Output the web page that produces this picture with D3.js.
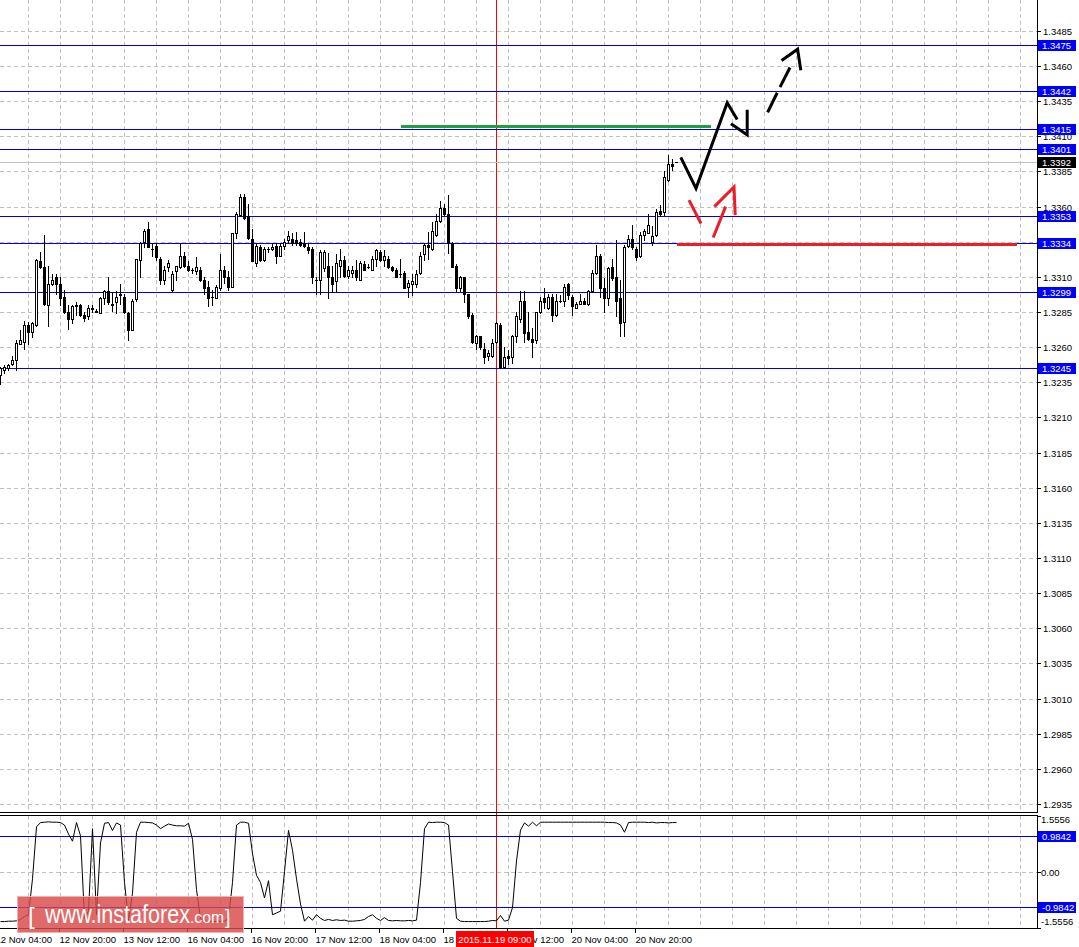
<!DOCTYPE html>
<html><head><meta charset="utf-8">
<script src="https://cdn.jsdelivr.net/npm/d3@7"></script>
<style>html,body{margin:0;padding:0;background:#fff;overflow:hidden}text{font-family:"Liberation Sans",Arial,sans-serif}</style>
</head><body><svg id="c" width="1079" height="947"></svg>
<script>
// ---- DATA ----
// hourly candles [open, high, low, close], bar index 0..169
const ohlc = [
[1.3240,1.3246,1.3234,1.3245],[1.3244,1.3247,1.3242,1.3246],[1.3245,1.3248,1.3244,1.3247],[1.3248,1.3254,1.3247,1.3251],
[1.3251,1.3265,1.3244,1.3263],[1.3262,1.3272,1.3262,1.3265],[1.3264,1.3279,1.3259,1.3276],[1.3276,1.3278,1.3262,1.3271],
[1.3271,1.3278,1.3267,1.3277],[1.3276,1.3323,1.3275,1.3322],[1.3321,1.3328,1.3316,1.3317],[1.3317,1.3340,1.3290,1.3291],
[1.3290,1.3318,1.3275,1.3305],[1.3305,1.3312,1.3304,1.3308],[1.3310,1.3312,1.3298,1.3305],[1.3305,1.3310,1.3290,1.3295],
[1.3296,1.3301,1.3284,1.3285],[1.3285,1.3290,1.3273,1.3280],[1.3280,1.3290,1.3277,1.3289],[1.3290,1.3292,1.3283,1.3289],
[1.3290,1.3291,1.3282,1.3283],[1.3283,1.3285,1.3279,1.3281],[1.3282,1.3290,1.3280,1.3288],[1.3288,1.3290,1.3285,1.3287],
[1.3286,1.3287,1.3285,1.3285],[1.3284,1.3296,1.3284,1.3295],[1.3295,1.3301,1.3291,1.3300],[1.3300,1.3310,1.3291,1.3292],
[1.3291,1.3299,1.3286,1.3290],[1.3292,1.3300,1.3284,1.3296],[1.3297,1.3305,1.3291,1.3298],[1.3296,1.3298,1.3284,1.3285],
[1.3284,1.3285,1.3265,1.3272],[1.3272,1.3294,1.3272,1.3293],[1.3294,1.3323,1.3293,1.3323],[1.3322,1.3335,1.3310,1.3334],
[1.3335,1.3344,1.3331,1.3343],[1.3344,1.3349,1.3331,1.3331],[1.3330,1.3334,1.3325,1.3330],[1.3332,1.3334,1.3322,1.3324],
[1.3323,1.3324,1.3305,1.3308],[1.3308,1.3318,1.3305,1.3315],[1.3317,1.3322,1.3314,1.3320],[1.3301,1.3314,1.3300,1.3312],
[1.3314,1.3318,1.3308,1.3318],[1.3317,1.3334,1.3316,1.3325],[1.3325,1.3328,1.3317,1.3318],[1.3318,1.3321,1.3314,1.3315],
[1.3315,1.3316,1.3313,1.3315],[1.3314,1.3324,1.3312,1.3317],[1.3315,1.3317,1.3307,1.3308],[1.3308,1.3310,1.3298,1.3302],
[1.3303,1.3307,1.3289,1.3295],[1.3296,1.3301,1.3290,1.3296],[1.3295,1.3304,1.3295,1.3303],[1.3302,1.3326,1.3301,1.3315],
[1.3315,1.3318,1.3306,1.3310],[1.3310,1.3314,1.3301,1.3303],[1.3303,1.3341,1.3303,1.3341],[1.3341,1.3356,1.3338,1.3355],
[1.3354,1.3369,1.3353,1.3367],[1.3367,1.3369,1.3351,1.3352],[1.3353,1.3362,1.3337,1.3338],[1.3337,1.3344,1.3321,1.3321],
[1.3320,1.3334,1.3318,1.3332],[1.3331,1.3333,1.3321,1.3322],[1.3322,1.3331,1.3321,1.3330],[1.3330,1.3331,1.3328,1.3330],
[1.3330,1.3334,1.3329,1.3331],[1.3332,1.3334,1.3320,1.3325],[1.3325,1.3334,1.3325,1.3332],[1.3332,1.3337,1.3330,1.3335],
[1.3336,1.3343,1.3334,1.3339],[1.3337,1.3341,1.3333,1.3334],[1.3336,1.3342,1.3333,1.3334],[1.3335,1.3337,1.3332,1.3333],
[1.3334,1.3342,1.3331,1.3332],[1.3331,1.3334,1.3327,1.3329],[1.3330,1.3331,1.3306,1.3310],[1.3308,1.3310,1.3298,1.3308],
[1.3308,1.3329,1.3298,1.3328],[1.3316,1.3329,1.3314,1.3328],[1.3318,1.3327,1.3295,1.3310],[1.3310,1.3318,1.3299,1.3305],
[1.3307,1.3326,1.3299,1.3320],[1.3318,1.3330,1.3310,1.3322],[1.3322,1.3325,1.3310,1.3311],[1.3311,1.3318,1.3309,1.3315],
[1.3313,1.3318,1.3310,1.3315],[1.3315,1.3322,1.3308,1.3310],[1.3308,1.3321,1.3308,1.3320],[1.3319,1.3321,1.3315,1.3315],
[1.3317,1.3319,1.3316,1.3317],[1.3315,1.3325,1.3315,1.3323],[1.3323,1.3330,1.3318,1.3329],[1.3328,1.3329,1.3321,1.3322],
[1.3322,1.3329,1.3318,1.3325],[1.3323,1.3325,1.3316,1.3317],[1.3317,1.3318,1.3314,1.3315],[1.3315,1.3316,1.3310,1.3310],
[1.3312,1.3323,1.3310,1.3312],[1.3313,1.3314,1.3302,1.3302],[1.3303,1.3308,1.3296,1.3306],[1.3305,1.3312,1.3297,1.3307],
[1.3305,1.3315,1.3303,1.3312],[1.3313,1.3328,1.3312,1.3325],[1.3326,1.3334,1.3322,1.3333],[1.3333,1.3342,1.3323,1.3331],
[1.3330,1.3349,1.3329,1.3343],[1.3340,1.3355,1.3339,1.3350],[1.3350,1.3364,1.3349,1.3359],[1.3359,1.3362,1.3354,1.3355],
[1.3355,1.3368,1.3327,1.3334],[1.3334,1.3335,1.3317,1.3317],[1.3318,1.3319,1.3300,1.3302],[1.3302,1.3311,1.3300,1.3310],
[1.3310,1.3310,1.3292,1.3298],[1.3298,1.3298,1.3281,1.3282],[1.3283,1.3284,1.3263,1.3264],[1.3263,1.3269,1.3259,1.3268],
[1.3268,1.3268,1.3259,1.3260],[1.3259,1.3263,1.3249,1.3253],[1.3254,1.3258,1.3251,1.3256],[1.3254,1.3266,1.3253,1.3263],
[1.3264,1.3278,1.3263,1.3277],[1.3276,1.3277,1.3245,1.3246],[1.3246,1.3260,1.3245,1.3253],[1.3254,1.3258,1.3248,1.3252],
[1.3253,1.3269,1.3249,1.3268],[1.3268,1.3285,1.3264,1.3282],[1.3280,1.3300,1.3278,1.3293],[1.3293,1.3300,1.3264,1.3270],
[1.3271,1.3285,1.3265,1.3266],[1.3266,1.3274,1.3253,1.3264],[1.3265,1.3285,1.3263,1.3285],[1.3285,1.3296,1.3284,1.3293],
[1.3295,1.3302,1.3288,1.3292],[1.3288,1.3298,1.3287,1.3296],[1.3296,1.3298,1.3279,1.3283],[1.3283,1.3298,1.3282,1.3293],
[1.3293,1.3297,1.3292,1.3293],[1.3293,1.3305,1.3289,1.3303],[1.3305,1.3306,1.3294,1.3297],[1.3296,1.3297,1.3283,1.3289],
[1.3288,1.3292,1.3288,1.3291],[1.3291,1.3298,1.3291,1.3293],[1.3293,1.3295,1.3291,1.3291],[1.3291,1.3301,1.3290,1.3300],
[1.3300,1.3315,1.3299,1.3313],[1.3313,1.3333,1.3312,1.3325],[1.3325,1.3326,1.3296,1.3302],[1.3302,1.3309,1.3285,1.3295],
[1.3295,1.3317,1.3290,1.3316],[1.3317,1.3323,1.3308,1.3309],[1.3310,1.3336,1.3282,1.3293],[1.3295,1.3308,1.3268,1.3277],
[1.3278,1.3333,1.3268,1.3331],[1.3332,1.3340,1.3331,1.3337],[1.3337,1.3347,1.3330,1.3331],[1.3330,1.3331,1.3322,1.3324],
[1.3325,1.3342,1.3324,1.3340],[1.3340,1.3344,1.3336,1.3343],[1.3341,1.3355,1.3341,1.3347],[1.3335,1.3346,1.3333,1.3339],
[1.3340,1.3358,1.3339,1.3356],[1.3357,1.3361,1.3353,1.3355],[1.3356,1.3385,1.3354,1.3381],[1.3379,1.3397,1.3378,1.3390],
[1.3390,1.3394,1.3386,1.3389],[1.3392,1.3392,1.3392,1.3392]
];
// oscillator in lower pane, one value per bar
const oscillator = [
-1.39,-1.39,-1.38,-1.38,-1.37,-1.33,-1.25,-1.2,-0.2,1.25,1.37,
1.38,1.39,1.38,1.38,1.37,1.30,1.05,0.85,1.37,
1.0,-1.3,-1.1,1.2,-1.2,0.8,1.35,1.37,1.15,1.36,1.3,
-0.3,-1.35,-0.6,1.1,1.38,
1.38,1.37,1.36,1.3,1.2,1.27,1.33,1.3,1.28,1.28,1.27,1.35,
0.9,-0.5,-1.3,-1.38,-1.39,-1.38,-1.39,-1.38,-1.38,-1.3,-0.3,1.3,
1.38,1.38,1.35,0.5,-0.1,-0.3,-0.73,-0.25,-1.2,-1.15,-1.1,0.0,1.15,0.6,-0.2,-0.9,-1.38,
-1.25,-1.35,-1.2,-1.3,-1.36,-1.33,-1.36,-1.34,-1.36,-1.35,-1.38,-1.38,-1.37,-1.36,
-1.33,-1.25,-1.2,-1.3,-1.36,-1.28,-1.36,-1.37,-1.36,-1.37,-1.37,-1.36,-1.37,-1.35,
-0.3,1.2,1.38,1.37,1.38,1.38,1.37,1.3,0.0,-1.3,
-1.38,-1.39,-1.39,-1.39,-1.39,-1.39,-1.39,-1.38,-1.36,-1.37,-1.22,-1.38,-1.35,
-1.0,0.3,1.16,1.36,1.27,1.38,1.28,1.38,
1.38,1.38,1.38,1.38,1.38,1.38,1.38,1.38,1.38,1.38,1.38,1.38,1.38,1.38,1.38,1.38,1.37,1.37,1.36,
1.3,1.1,1.37,1.38,1.38,1.38,1.38,1.37,1.38,1.36,1.37,1.37,1.36,1.37,1.37
];
const priceTicks = ["1.3485","1.3460","1.3435","1.3410","1.3385","1.3360","1.3335","1.3310","1.3285","1.3260",
 "1.3235","1.3210","1.3185","1.3160","1.3135","1.3110","1.3085","1.3060","1.3035","1.3010","1.2985","1.2960","1.2935"];
const levels = [1.3475,1.3442,1.3415,1.3401,1.3353,1.3334,1.3299,1.3245];
const levelLabels = ["1.3475","1.3442","1.3415","1.3401","1.3353","1.3334","1.3299","1.3245"];
const lastPrice = 1.3392, lastLabel = "1.3392";
const oscTicks = [1.5556, 0, -1.5556];
const oscTickLabels = ["1.5556","0.00","-1.5556"];
const oscLevels = [0.9842, -0.9842];
const oscLevelLabels = ["0.9842","-0.9842"];
const timeTickIndex = [-1,15,31,47,63,79,95,111,127,143,159];
const timeTickLabels = ["12 Nov 04:00","12 Nov 20:00","13 Nov 12:00","16 Nov 04:00","16 Nov 20:00","17 Nov 12:00",
 "18 Nov 04:00","18 Nov 20:00","19 Nov 12:00","20 Nov 04:00","20 Nov 20:00"];
const markerIndex = 124, markerLabel = "2015.11.19 09:00";
// drawn annotations in [bar index, price]
const greenSegment = [[100.25,1.3417],[177.75,1.3417]];
const redSegment = [[169.25,1.3333],[254.25,1.3333]];
const blackZigzag = [[170.2,1.3395],[174.0,1.3373],[181.8,1.3434],[184.3,1.3422]];
const blackHead = [[182.75,1.3419],[186.8,1.3411],[186.8,1.3429]];
const dashedShafts = [[[191.9,1.3427],[194.3,1.3441]],[[195.0,1.3445],[197.5,1.3459]]];
const dashedHead = [[195.4,1.3464],[199.4,1.3472],[200.2,1.3457]];
const redShafts = [[[172.25,1.33646],[175.25,1.33480]],[[178.3,1.3338],[181.4,1.3360]]];
const redHead = [[178.6,1.3360],[183.5,1.3374],[183.8,1.3354]];

// ---- LAYOUT ----
const svg = d3.select("#c");
const plotR = 1037, mainB = 812.5, indT = 815.5, indB = 928.5;
const x = d3.scaleLinear().domain([0, 259.25]).range([0, plotR]);
const y = d3.scaleLinear().domain([1.2929, 1.3507]).range([mainB, 0]);
const yo = d3.scaleLinear().domain([-1.5556, 1.5556]).range([927.5, 815.9]);
const px = v => Math.round(v) + 0.5;

const defs = svg.append("defs");
defs.append("clipPath").attr("id","mainClip").append("rect").attr("x",0).attr("y",0).attr("width",plotR).attr("height",mainB);
defs.append("clipPath").attr("id","indClip").append("rect").attr("x",0).attr("y",indT).attr("width",plotR).attr("height",indB-indT);

const grid = svg.append("g").attr("stroke","#c0c0c0").attr("stroke-dasharray","4,3").attr("shape-rendering","crispEdges");
const gridIdx = d3.range(7, 259, 8);
grid.selectAll(".vm").data(gridIdx).join("line").attr("x1",d=>px(x(d))).attr("x2",d=>px(x(d))).attr("y1",0).attr("y2",mainB);
grid.selectAll(".vi").data(gridIdx).join("line").attr("class","vi").attr("x1",d=>px(x(d))).attr("x2",d=>px(x(d))).attr("y1",indT).attr("y2",indB);
grid.selectAll(".hm").data(priceTicks).join("line").attr("class","hm").attr("x1",0).attr("x2",plotR).attr("y1",d=>px(y(+d))).attr("y2",d=>px(y(+d)));
grid.append("line").attr("x1",0).attr("x2",plotR).attr("y1",px(yo(0))).attr("y2",px(yo(0)));

// marker vertical line
svg.append("line").attr("x1",px(x(markerIndex))).attr("x2",px(x(markerIndex))).attr("y1",0).attr("y2",indB)
  .attr("stroke","#ff0000").attr("shape-rendering","crispEdges");

// level lines
const lv = svg.append("g").attr("shape-rendering","crispEdges");
lv.selectAll("line").data(levels).join("line").attr("x1",0).attr("x2",plotR)
  .attr("y1",d=>px(y(d))).attr("y2",d=>px(y(d))).attr("stroke","#0000e6");
lv.append("line").attr("x1",0).attr("x2",plotR).attr("y1",px(y(lastPrice))).attr("y2",px(y(lastPrice))).attr("stroke","#c0c0c0");
lv.selectAll(".ol").data(oscLevels).join("line").attr("class","ol").attr("x1",0).attr("x2",plotR)
  .attr("y1",d=>px(yo(d))).attr("y2",d=>px(yo(d))).attr("stroke","#0000e6");

// candles
const cg = svg.append("g").attr("clip-path","url(#mainClip)").attr("shape-rendering","crispEdges");
ohlc.forEach((c,i)=>{
  const cx = Math.round(x(i));
  const [o,h,l,cl] = c;
  cg.append("line").attr("x1",cx+0.5).attr("x2",cx+0.5).attr("y1",Math.round(y(h))).attr("y2",Math.round(y(l))+1).attr("stroke","#000");
  const yt = Math.round(y(Math.max(o,cl))), yb = Math.round(y(Math.min(o,cl)));
  if (cl > o) {
    cg.append("rect").attr("x",cx-0.5).attr("y",yt+0.5).attr("width",2).attr("height",Math.max(1,yb-yt))
      .attr("fill","#fff").attr("stroke","#000");
  } else if (cl < o) {
    cg.append("rect").attr("x",cx-1).attr("y",yt).attr("width",3).attr("height",Math.max(1,yb-yt+1)).attr("fill","#000");
  } else {
    cg.append("line").attr("x1",cx-1).attr("x2",cx+2).attr("y1",yt+0.5).attr("y2",yt+0.5).attr("stroke","#000");
  }
});

// oscillator
svg.append("path").datum(oscillator).attr("clip-path","url(#indClip)")
  .attr("d", d3.line().x((d,i)=>x(i)+0.5).y(d=>yo(d)))
  .attr("fill","none").attr("stroke","#000").attr("stroke-width",1);

// annotations
const line = d3.line().x(d=>x(d[0])).y(d=>y(d[1]));
const ann = svg.append("g").attr("fill","none").attr("stroke-linecap","butt").attr("stroke-linejoin","miter");
ann.append("path").attr("d",line(greenSegment)).attr("stroke","#21a03a").attr("stroke-width",3);
ann.append("path").attr("d",line(redSegment)).attr("stroke","#e8202a").attr("stroke-width",3);
ann.append("path").attr("d",line(blackZigzag)).attr("stroke","#000").attr("stroke-width",3);
ann.append("path").attr("d",line(blackHead)).attr("stroke","#000").attr("stroke-width",3);
dashedShafts.forEach(s=>ann.append("path").attr("d",line(s)).attr("stroke","#000").attr("stroke-width",3));
ann.append("path").attr("d",line(dashedHead)).attr("stroke","#000").attr("stroke-width",3);
redShafts.forEach(s=>ann.append("path").attr("d",line(s)).attr("stroke","#ee1c25").attr("stroke-width",3));
ann.append("path").attr("d",line(redHead)).attr("stroke","#ee1c25").attr("stroke-width",3);

// frames
const fr = svg.append("g").attr("stroke","#000").attr("shape-rendering","crispEdges");
fr.append("line").attr("x1",0).attr("x2",plotR+0.5).attr("y1",mainB).attr("y2",mainB);
fr.append("line").attr("x1",plotR+0.5).attr("x2",plotR+0.5).attr("y1",0).attr("y2",mainB);
fr.append("rect").attr("x",-1).attr("y",indT).attr("width",plotR+1.5).attr("height",indB-indT).attr("fill","none");

// right axis: price ticks
const ax = svg.append("g").attr("font-size","9.5px");
priceTicks.forEach(t=>{
  const yy = px(y(+t));
  ax.append("line").attr("x1",plotR).attr("x2",plotR+4).attr("y1",yy).attr("y2",yy).attr("stroke","#000").attr("shape-rendering","crispEdges");
  ax.append("text").attr("x",1043).attr("y",yy+3.5).attr("fill","#000").text(t);
});
oscTicks.forEach((t,k)=>{
  const yy = px(yo(t));
  const ty = k===0 ? yy+6 : (k===2 ? yy-4 : yy+3.5);
  ax.append("line").attr("x1",plotR).attr("x2",plotR+4).attr("y1",yy).attr("y2",yy).attr("stroke","#000").attr("shape-rendering","crispEdges");
  ax.append("text").attr("x",1041).attr("y",ty).attr("fill","#000").text(oscTickLabels[k]);
});
function tag(yv, label, bg){
  const yy = Math.round(yv);
  ax.append("rect").attr("x",1038).attr("y",yy-5).attr("width",38).attr("height",11).attr("fill",bg);
  ax.append("text").attr("x",1042).attr("y",yy+4).attr("fill","#fff").text(label);
}
levels.forEach((l,k)=>tag(y(l), levelLabels[k], "#0000ff"));
tag(y(lastPrice), lastLabel, "#000");
oscLevels.forEach((l,k)=>tag(yo(l), oscLevelLabels[k], "#0000ff"));

// time axis
const tx = svg.append("g").attr("font-size","9.5px");
timeTickIndex.forEach((ti,k)=>{
  const xx = Math.round(x(ti)) - 0.5;
  tx.append("line").attr("x1",xx).attr("x2",xx).attr("y1",indB).attr("y2",indB+4).attr("stroke","#000").attr("shape-rendering","crispEdges");
  tx.append("text").attr("x",xx).attr("y",943).attr("fill","#000").text(timeTickLabels[k]);
});
const mx = x(markerIndex);
tx.append("rect").attr("x",mx-40).attr("y",931).attr("width",78).attr("height",16).attr("fill","#ff0000");
tx.append("text").attr("x",mx-1).attr("y",943).attr("text-anchor","middle").attr("fill","#fff").text(markerLabel);

// watermark logo
const lg = svg.append("g");
lg.append("rect").attr("x",17.5).attr("y",896.5).attr("width",226).attr("height",36)
  .attr("fill","#d94848").attr("fill-opacity",0.82).attr("stroke","#f2b0b0").attr("stroke-width",1);
lg.append("text").attr("x",28).attr("y",924).attr("font-size","24px").attr("fill","#fff").text("[");
lg.append("text").attr("x",45).attr("y",923).attr("font-size","25px").attr("fill","#fff")
  .attr("textLength",145).attr("lengthAdjust","spacingAndGlyphs").text("www.instaforex");
lg.append("text").attr("x",190).attr("y",923).attr("font-size","17px").attr("fill","#fff")
  .attr("textLength",34).attr("lengthAdjust","spacingAndGlyphs").text(".com");
lg.append("text").attr("x",225).attr("y",924).attr("font-size","20px").attr("fill","#fff").text("]");
</script></body></html>
